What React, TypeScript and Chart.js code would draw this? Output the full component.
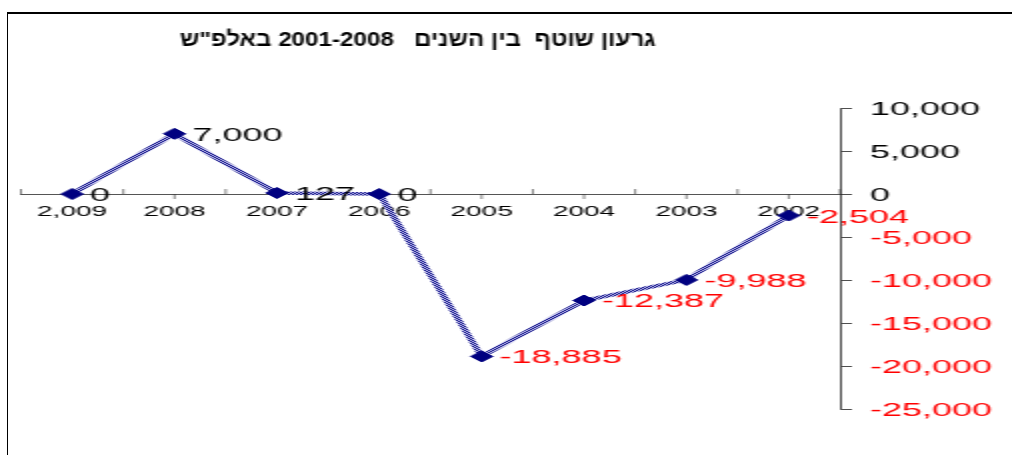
import React, { useEffect, useRef } from "react";
import { Chart, registerables } from "chart.js";

Chart.register(...registerables);

const categories = ["2,009", "2008", "2007", "2006", "2005", "2004", "2003", "2002"];
const deficit = [0, 7000, 127, 0, -18885, -12387, -9988, -2504];
const yMin = -25000;
const yMax = 10000;
const yStep = 5000;
const titleText = 'גרעון שוטף  בין השנים   2001-2008 באלפ"ש';

const FAMILY = '"Liberation Sans", Arial, sans-serif';
const fmt = (v: number) => Number(v).toLocaleString("en-US");

function makePattern(): CanvasPattern | string {
  const c = document.createElement("canvas");
  c.width = 2;
  c.height = 2;
  const g = c.getContext("2d");
  if (!g) return "#5a5db0";
  g.fillStyle = "#c8c8f0";
  g.fillRect(0, 0, 2, 2);
  g.fillStyle = "#000080";
  g.fillRect(0, 0, 1, 1);
  g.fillRect(1, 1, 1, 1);
  const p = g.createPattern(c, "repeat");
  return p || "#5a5db0";
}

const titlePlugin = {
  id: "customTitle",
  afterDraw(chart: any) {
    const ctx = chart.ctx;
    ctx.save();
    ctx.font = `bold 21px ${FAMILY}`;
    ctx.fillStyle = "#000";
    ctx.direction = "rtl";
    ctx.textAlign = "center";
    ctx.textBaseline = "middle";
    ctx.translate(209, 40.5);
    ctx.scale(0.575, 1);
    ctx.fillText(titleText, 0, 0);
    ctx.restore();
  },
};

const tickPlugin = {
  id: "xTicks",
  beforeDatasetsDraw(chart: any) {
    const ctx = chart.ctx;
    const xs = chart.scales.x;
    const ys = chart.scales.y;
    const y0 = ys.getPixelForValue(0);
    ctx.save();
    ctx.strokeStyle = "#333";
    ctx.lineWidth = 0.6;
    ctx.beginPath();
    for (let i = 0; i <= categories.length; i++) {
      const bx = xs.getPixelForValue(i - 0.5);
      ctx.moveTo(bx, y0 - 5);
      ctx.lineTo(bx, y0);
    }
    for (let i = 0; i < categories.length; i++) {
      const cx = xs.getPixelForValue(i);
      ctx.moveTo(cx, y0);
      ctx.lineTo(cx, y0 + 5);
    }
    ctx.stroke();
    ctx.restore();
  },
};

const labelPlugin = {
  id: "valueLabels",
  afterDatasetsDraw(chart: any) {
    const ctx = chart.ctx;
    const meta = chart.getDatasetMeta(0);
    ctx.save();
    ctx.font = `18px ${FAMILY}`;
    ctx.textAlign = "left";
    ctx.textBaseline = "middle";
    meta.data.forEach((pt: any, i: number) => {
      const v = deficit[i];
      ctx.fillStyle = v < 0 ? "#ff0000" : "#000000";
      ctx.fillText(fmt(v), pt.x + 9, pt.y + 2);
    });
    ctx.restore();
  },
};

export default function App() {
  const ref = useRef<HTMLCanvasElement>(null);

  useEffect(() => {
    if (!ref.current) return;
    const pattern = makePattern();
    const chart = new Chart(ref.current, {
      type: "line",
      data: {
        labels: categories,
        datasets: [
          {
            data: deficit,
            borderColor: pattern as any,
            borderWidth: 3.5,
            pointStyle: "rectRot",
            pointRadius: 5.5,
            pointBackgroundColor: "#000080",
            pointBorderColor: "#000080",
            pointBorderWidth: 1,
            tension: 0,
            fill: false,
          },
        ],
      },
      options: {
        responsive: true,
        maintainAspectRatio: false,
        animation: false,
        events: [],
        layout: { padding: { left: 10.5, right: 0, top: 108, bottom: 46 } },
        plugins: {
          legend: { display: false },
          title: { display: false },
          tooltip: { enabled: false },
        },
        scales: {
          x: {
            type: "category",
            offset: true,
            position: { y: 0 } as any,
            grid: { display: true, drawOnChartArea: false, drawTicks: false },
            border: { display: true, color: "#555", width: 1 },
            ticks: {
              color: "#000",
              font: { family: FAMILY, size: 14 },
              padding: 10,
              maxRotation: 0,
              autoSkip: false,
            },
          },
          y: {
            position: "right",
            min: yMin,
            max: yMax,
            grid: { drawOnChartArea: false, drawTicks: true, tickLength: 6, color: "#222", lineWidth: 0.8 },
            border: { display: true, color: "#222", width: 0.8 },
            ticks: {
              stepSize: yStep,
              padding: 9,
              labelOffset: 2,
              color: (c: any) => (c.tick && c.tick.value < 0 ? "#ff0000" : "#000000"),
              font: { family: FAMILY, size: 18 },
              callback: (v: any) => fmt(v),
            },
            afterFit: (s: any) => {
              s.width = 86;
            },
          },
        },
      },
      plugins: [tickPlugin, labelPlugin, titlePlugin],
    });
    return () => chart.destroy();
  }, []);

  return (
    <div
      style={{
        position: "fixed",
        left: 0,
        top: 0,
        width: 1012,
        height: 455,
        overflow: "hidden",
        background: "#fff",
      }}
    >
      <div
        style={{
          position: "absolute",
          left: 7,
          top: 12,
          width: 1100,
          height: 500,
          borderTop: "2px solid #000",
          borderLeft: "1.5px solid #000",
          boxSizing: "border-box",
        }}
      />
      <div
        style={{
          position: "absolute",
          left: 0,
          top: 0,
          width: 506,
          height: 455,
          transform: "scaleX(2)",
          transformOrigin: "0 0",
        }}
      >
        <canvas ref={ref} />
      </div>
    </div>
  );
}
